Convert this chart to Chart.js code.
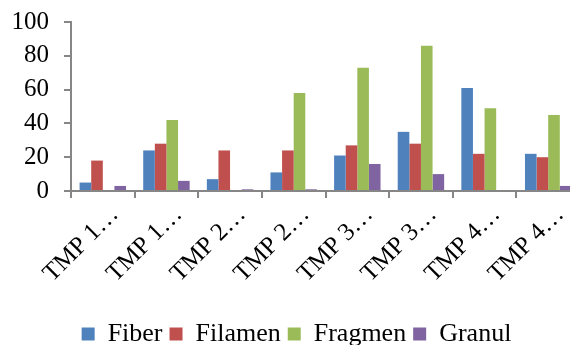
<!DOCTYPE html>
<html>
<head>
<meta charset="utf-8">
<script src="https://cdn.jsdelivr.net/npm/chart.js@4.4.0/dist/chart.umd.min.js"></script>
<style>
html,body{margin:0;padding:0;overflow:hidden;background:#fff;width:570px;height:345px;}
canvas{display:block;}
</style>
</head>
<body>
<canvas id="c" width="580" height="357"></canvas>
<script>
const categories = ["TMP 1…","TMP 1…","TMP 2…","TMP 2…","TMP 3…","TMP 3…","TMP 4…","TMP 4…"];
const fiber   = [5, 24, 7, 11, 21, 35, 61, 22];
const filamen = [18, 28, 24, 24, 27, 28, 22, 20];
const fragmen = [0, 42, 0, 58, 73, 86, 49, 45];
const granul  = [3, 6, 1, 1, 16, 10, 0, 3];
const seriesNames = ["Fiber","Filamen","Fragmen","Granul"];
const yTicks = [0, 20, 40, 60, 80, 100];

const colors = ["#4F81BD","#C0504D","#9BBB59","#8064A2"];
const font = "'Liberation Serif','Times New Roman',serif";
const gray = "#868686";

new Chart(document.getElementById('c'), {
  type: 'bar',
  data: {
    labels: categories,
    datasets: [fiber, filamen, fragmen, granul].map((d, i) => ({
      label: seriesNames[i],
      data: d,
      backgroundColor: colors[i],
      borderWidth: 0,
      categoryPercentage: 0.73,
      barPercentage: 1.0
    }))
  },
  options: {
    responsive: false,
    animation: false,
    layout: { padding: { top: 22, right: 0, left: 13, bottom: 0 } },
    plugins: {
      tooltip: { enabled: false },
      legend: {
        position: 'bottom',
        labels: {
          font: { family: font, size: 26 },
          color: '#000',
          boxWidth: 13,
          boxHeight: 13,
          padding: 7
        }
      }
    },
    scales: {
      x: {
        grid: { display: true, drawOnChartArea: false, drawTicks: true, tickLength: 7, color: gray, lineWidth: 2 },
        border: { color: gray, width: 2 },
        ticks: {
          font: { family: font, size: 25 },
          color: '#000',
          maxRotation: 45,
          minRotation: 45,
          autoSkip: false,
          padding: 2,
          labelOffset: 12
        },
        afterFit: s => { s.height = 123; s.paddingLeft = 0; s.paddingRight = 0; }
      },
      y: {
        min: 0,
        max: 100,
        afterBuildTicks: s => { s.ticks = yTicks.map(v => ({ value: v })); },
        grid: { display: true, drawOnChartArea: false, drawTicks: true, tickLength: 7, color: gray, lineWidth: 2 },
        border: { color: gray, width: 2 },
        ticks: {
          font: { family: font, size: 25 },
          color: '#000',
          padding: 15
        },
        afterFit: s => { s.width = 58; s.paddingTop = 0; s.paddingBottom = 0; }
      }
    }
  }
});
</script>
</body>
</html>
